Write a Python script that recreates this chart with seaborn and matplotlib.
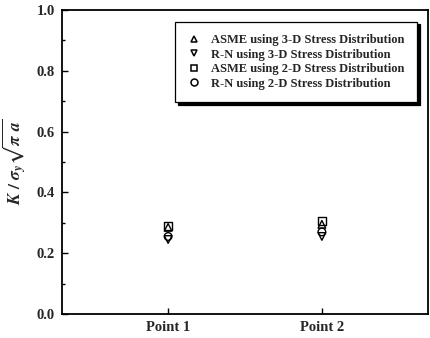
import matplotlib
matplotlib.use("Agg")
import matplotlib.pyplot as plt
import seaborn as sns
import pandas as pd
from matplotlib.ticker import MultipleLocator, FormatStrFormatter

points = ["Point 1", "Point 2"]
series = ["ASME using 3-D Stress Distribution",
          "R-N using 3-D Stress Distribution",
          "ASME using 2-D Stress Distribution",
          "R-N using 2-D Stress Distribution"]
asme_3d = [0.285, 0.295]
rn_3d = [0.245, 0.255]
asme_2d = [0.290, 0.305]
rn_2d = [0.255, 0.270]
markers = {series[0]: "^", series[1]: "v", series[2]: "s", series[3]: "o"}

rows = []
for s, vals in zip(series, [asme_3d, rn_3d, asme_2d, rn_2d]):
    for i, v in enumerate(vals):
        rows.append({"x": i + 1, "y": v, "series": s})
df = pd.DataFrame(rows)

sns.set_theme(style="ticks")
plt.rcParams["font.family"] = ["Liberation Serif", "DejaVu Serif"]
plt.rcParams["font.weight"] = "bold"
plt.rcParams["mathtext.fontset"] = "stix"

fig = plt.figure(figsize=(4.31, 3.38), dpi=100)
ax = fig.add_axes([62/431, 1 - 314/338, (428-62)/431, (314-10)/338])

sns.scatterplot(data=df, x="x", y="y", style="series", markers=markers,
                style_order=series, s=30, facecolor="none", edgecolor="black",
                linewidth=1.0, ax=ax, legend=False)

ax.set_xlim(0.31, 2.69)
ax.set_ylim(0, 1.0)
ax.set_xticks([1, 2])
ax.set_xticklabels(points, fontsize=10.5, fontweight="bold")
ax.yaxis.set_major_locator(MultipleLocator(0.2))
ax.yaxis.set_minor_locator(MultipleLocator(0.1))
ax.yaxis.set_major_formatter(FormatStrFormatter("%.1f"))
ax.tick_params(axis="y", labelsize=10.5)
ax.tick_params(which="both", direction="in", color="black", width=1.0)
ax.tick_params(which="major", length=4)
ax.tick_params(which="minor", length=2)
ax.tick_params(axis="x", pad=5)
ax.tick_params(axis="y", pad=5)
ax.set_xlabel("")
ax.set_ylabel(r"$\mathbfit{K}\ /\ \mathbfit{\sigma}_{\mathbfit{y}}\mathbf{\sqrt{\mathbfit{\pi\ a}}}$", fontsize=12.5, labelpad=6)
for sp in ax.spines.values():
    sp.set_color("black")
    sp.set_linewidth(1.3)

handles = [plt.Line2D([], [], marker=markers[s], linestyle="none", markerfacecolor="none",
                      markeredgecolor="black", markersize=5, markeredgewidth=1.1) for s in series]
leg = ax.legend(handles, series, loc="upper right", bbox_to_anchor=(0.97, 0.962),
                frameon=True, fancybox=False, shadow={"color": "black", "alpha": 1.0},
                prop={"family": "Liberation Serif", "weight": "bold", "size": 9},
                handletextpad=0.9, labelspacing=0.2, borderpad=1.0, handlelength=1.0,
                borderaxespad=0)
leg.get_frame().set_edgecolor("black")
leg.get_frame().set_linewidth(0.9)

fig.savefig("out.png", dpi=100)
